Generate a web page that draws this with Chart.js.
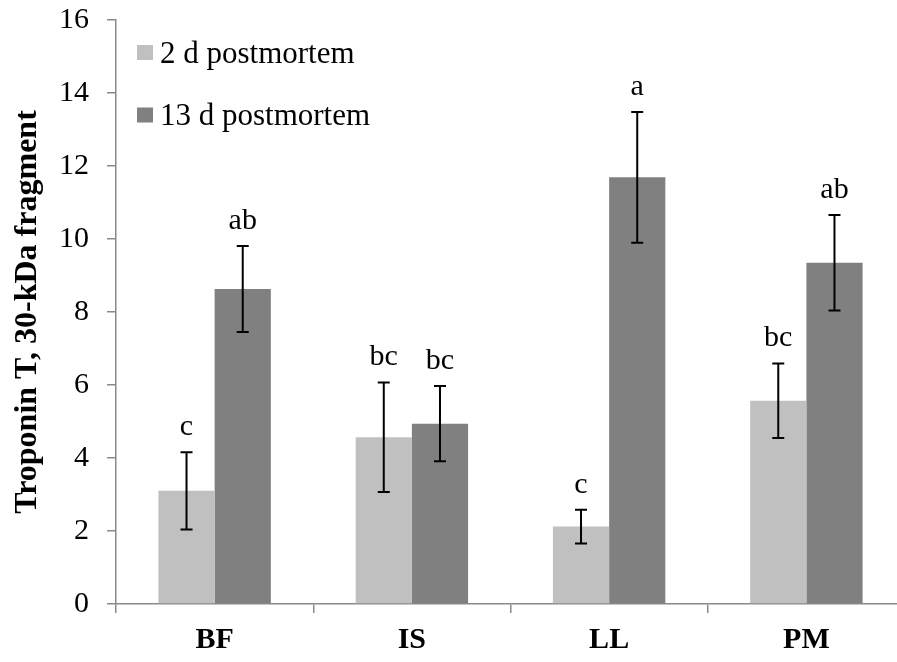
<!DOCTYPE html>
<html>
<head>
<meta charset="utf-8">
<script src="https://cdn.jsdelivr.net/npm/chart.js@4/dist/chart.umd.min.js"></script>
<style>
html,body{margin:0;padding:0;background:#fff;overflow:hidden;}
#wrap{width:920px;height:662px;}
</style>
</head>
<body>
<div id="wrap"><canvas id="c" width="920" height="662"></canvas></div>
<script>
const categories = ['BF', 'IS', 'LL', 'PM'];
const seriesNames = ['2 d postmortem', '13 d postmortem'];
const values2d = [3.10, 4.57, 2.12, 5.57];
const values13d = [8.63, 4.94, 11.69, 9.35];
const err2d = [1.06, 1.50, 0.46, 1.02];
const err13d = [1.18, 1.03, 1.79, 1.31];
const letters2d = ['c', 'bc', 'c', 'bc'];
const letters13d = ['ab', 'bc', 'a', 'ab'];
const yTicks = [0, 2, 4, 6, 8, 10, 12, 14, 16];

const SERIF = '"Liberation Serif", "Times New Roman", serif';
const errs = [err2d, err13d];
const letters = [letters2d, letters13d];

const overlayPlugin = {
  id: 'overlay',
  afterDatasetsDraw(chart) {
    const ctx = chart.ctx;
    const y = chart.scales.y;
    ctx.save();
    chart.data.datasets.forEach((ds, di) => {
      const meta = chart.getDatasetMeta(di);
      meta.data.forEach((bar, i) => {
        const v = ds.data[i];
        const e = errs[di][i];
        const yt = y.getPixelForValue(v + e);
        const yb = y.getPixelForValue(v - e);
        const x = bar.x;
        ctx.strokeStyle = '#000';
        ctx.lineWidth = 2;
        ctx.beginPath();
        ctx.moveTo(x, yt); ctx.lineTo(x, yb);
        ctx.moveTo(x - 6, yt); ctx.lineTo(x + 6, yt);
        ctx.moveTo(x - 6, yb); ctx.lineTo(x + 6, yb);
        ctx.stroke();
        ctx.fillStyle = '#000';
        ctx.font = '30px ' + SERIF;
        ctx.textAlign = 'center';
        ctx.textBaseline = 'alphabetic';
        ctx.fillText(letters[di][i], x, yt - 17);
      });
    });
    // legend inside plot
    const lx = 137, ly = [52.5, 115];
    chart.data.datasets.forEach((ds, di) => {
      ctx.fillStyle = ds.backgroundColor;
      ctx.fillRect(lx, ly[di] - 7.5, 16, 15);
      ctx.fillStyle = '#000';
      ctx.font = '31px ' + SERIF;
      ctx.textAlign = 'left';
      ctx.textBaseline = 'alphabetic';
      ctx.fillText(ds.label, lx + 23, ly[di] + 10);
    });
    ctx.restore();
  }
};

new Chart(document.getElementById('c'), {
  type: 'bar',
  data: {
    labels: categories,
    datasets: [
      { label: seriesNames[0], data: values2d, backgroundColor: '#c0c0c0', borderWidth: 0 },
      { label: seriesNames[1], data: values13d, backgroundColor: '#808080', borderWidth: 0 }
    ]
  },
  options: {
    responsive: false,
    animation: false,
    devicePixelRatio: 1,
    layout: { padding: { left: 0, right: 15, top: 20, bottom: 0 } },
    datasets: { bar: { categoryPercentage: 0.57, barPercentage: 1.0 } },
    plugins: { legend: { display: false }, tooltip: { enabled: false } },
    scales: {
      x: {
        grid: { display: true, drawOnChartArea: false, drawTicks: true, offset: true, tickLength: 9, color: '#8a8a8a', lineWidth: 1.5 },
        border: { display: true, color: '#8a8a8a', width: 1.5 },
        ticks: { color: '#000', font: { family: SERIF, size: 30, weight: 'bold' }, padding: 9 },
        afterFit(s) { s.height = 58; s.paddingLeft = 0; s.paddingRight = 0; }
      },
      y: {
        min: 0, max: 16,
        afterBuildTicks(s) { s.ticks = yTicks.map(v => ({ value: v })); },
        grid: { display: true, drawOnChartArea: false, drawTicks: true, tickLength: 9, color: '#8a8a8a', lineWidth: 1.5 },
        border: { display: true, color: '#8a8a8a', width: 1.5 },
        ticks: { color: '#000', font: { family: SERIF, size: 30 }, padding: 18 },
        title: { display: true, text: 'Troponin T, 30-kDa fragment', color: '#000', font: { family: SERIF, size: 32, weight: 'bold' }, padding: { top: 9, bottom: 4 } },
        afterFit(s) { s.width = 116; s.paddingTop = 0; s.paddingBottom = 0; }
      }
    }
  },
  plugins: [overlayPlugin]
});
</script>
</body>
</html>
